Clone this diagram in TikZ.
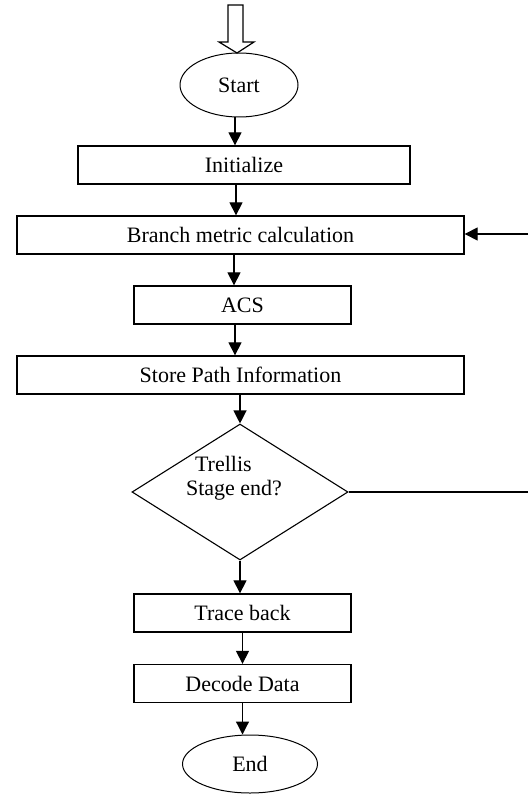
\documentclass[tikz,border=0pt]{standalone}
\usepackage{fontspec}
\setmainfont{Liberation Serif}
\usetikzlibrary{shapes.geometric,arrows.meta}

\begin{document}
\begin{tikzpicture}[x=1pt,y=-1pt,
    caja/.style={draw, line width=1.3pt, minimum height=38pt, inner sep=0pt},
    terminal/.style={draw, ellipse, line width=1pt, inner sep=0pt},
    decision/.style={draw, diamond, line width=1.1pt, minimum width=216pt, minimum height=136pt, inner sep=0pt},
    flecha/.style={line width=1.2pt, -{Triangle[length=13pt,width=13pt]}},
    font=\fontsize{22}{24}\selectfont]

    \useasboundingbox (0,0) rectangle (528,794);

    % flecha de entrada (hueca)
    \draw[line width=1.2pt] (228,5) -- (243,5) -- (243,42) -- (254,42) -- (237,53) -- (219,42) -- (228,42) -- cycle;

    % bloques
    \node[terminal, minimum width=118pt, minimum height=64pt] (start) at (239,85) {Start};
    \node[caja, minimum width=332pt] (init) at (244,165) {Initialize};
    \node[caja, minimum width=447pt] (branch) at (240.5,235) {Branch metric calculation};
    \node[caja, minimum width=217pt] (acs) at (242.5,305) {ACS};
    \node[caja, minimum width=447pt] (store) at (240.5,375) {Store Path Information};

    % decision
    \node[decision] (trellis) at (240,492) {};
    \node[align=left, inner sep=0pt] (trellistxt) at (234,478) {\hspace*{9pt}Trellis\\Stage end?};

    \node[caja, minimum width=217pt] (trace) at (242.5,613) {Trace back};
    \node[caja, minimum width=217pt] (decode) at (242.5,683.5) {Decode Data};
    \node[terminal, minimum width=135pt, minimum height=58pt] (end) at (250,764) {End};

    % flechas
    \draw[flecha] (start.south -| 235,0) -- (init.north -| 235,0);
    \draw[flecha] (init.south -| 236,0) -- (branch.north -| 236,0);
    \draw[flecha] (branch.south -| 234,0) -- (acs.north -| 234,0);
    \draw[flecha] (acs.south -| 235,0) -- (store.north -| 235,0);
    \draw[flecha] (store.south -| trellis.north) -- (trellis.north);
    \draw[flecha] (trellis.south) -- (trellis.south |- trace.north);
    \draw[flecha] (trace.south) -- (decode.north);
    \draw[flecha] (decode.south) -- (decode.south |- end.north);

    % retorno
    \coordinate (salida) at (528,492);
    \coordinate (entrada) at (528,234);
    \draw[line width=1.1pt] (trellis.east) -- (salida);
    \draw[flecha] (entrada) -- (branch.east |- entrada);

\end{tikzpicture}
\end{document}
